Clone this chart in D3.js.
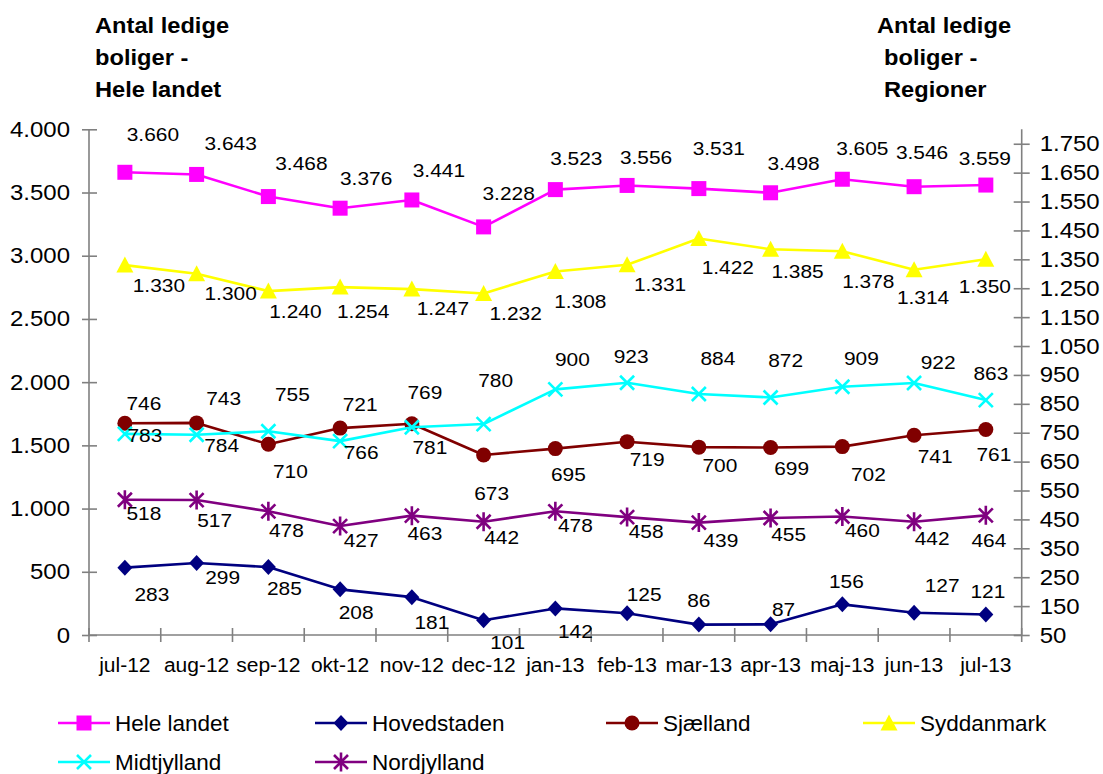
<!DOCTYPE html>
<html>
<head>
<meta charset="utf-8">
<script src="https://cdn.jsdelivr.net/npm/d3@7"></script>
<style>
  html, body { margin: 0; padding: 0; background: #fff; }
  svg { display: block; font-family: "Liberation Sans", Arial, sans-serif; }
</style>
</head>
<body>
<svg id="chart" width="1103" height="774"></svg>
<script>
// ---------------- DATA ----------------
const categories = ["jul-12","aug-12","sep-12","okt-12","nov-12","dec-12","jan-13","feb-13","mar-13","apr-13","maj-13","jun-13","jul-13"];
const heleLandet  = [3660,3643,3468,3376,3441,3228,3523,3556,3531,3498,3605,3546,3559];
const hovedstaden = [283,299,285,208,181,101,142,125,86,87,156,127,121];
const sjaelland   = [783,784,710,766,781,673,695,719,700,699,702,741,761];
const syddanmark  = [1330,1300,1240,1254,1247,1232,1308,1331,1422,1385,1378,1314,1350];
const midtjylland = [746,743,755,721,769,780,900,923,884,872,909,922,863];
const nordjylland = [518,517,478,427,463,442,478,458,439,455,460,442,464];
const leftTicks  = [0,500,1000,1500,2000,2500,3000,3500,4000];
const rightTicks = [50,150,250,350,450,550,650,750,850,950,1050,1150,1250,1350,1450,1550,1650,1750];
const leftTitle  = ["Antal ledige","boliger -","Hele landet"];
const rightTitle = ["Antal ledige","boliger -","Regioner"];

// ---------------- LAYOUT / STYLE ----------------
const plot = { left: 89, right: 1021.7, top: 129.3, bottom: 635 };
const axisColor = "#808080";

// label nudges (px, relative to each point; baseline)
const labelNudge = {
  hele:  { dx:[28,34,33,26,27,25,21,19,20,23,20,8,-1],   dy:[-31,-24,-27,-23,-23,-27,-25,-21,-34,-23,-24,-28,-20] },
  hoved: { dx:[27,26,16,16,20,24,20,17,0,13,4,28,2],      dy:[33,21,28,30,32,29,30,-12,-18,-8,-16,-21,-16] },
  sjael: { dx:[20,25,22,21,18,8,13,20,21,21,26,21,8],     dy:[19,29,34,31,30,45,32,24,25,28,34,28,31] },
  sydd:  { dx:[34,34,27,23,31,32,25,33,29,27,26,9,-1],    dy:[27,26,27,31,26,27,37,26,35,29,37,34,34] },
  midt:  { dx:[19,27,24,20,13,12,17,4,19,15,19,24,5],     dy:[-24,-30,-30,-30,-28,-37,-23,-20,-29,-30,-22,-14,-20] },
  nord:  { dx:[19,18,18,21,13,18,20,19,22,18,20,18,3],    dy:[20,27,26,21,24,22,21,21,24,23,20,23,32] }
};

const series = [
  { name:"Hele landet", values:heleLandet,  axis:"L", color:"#FF00FF", sym:"square",   nudge:labelNudge.hele },
  { name:"Hovedstaden", values:hovedstaden, axis:"R", color:"#000080", sym:"diamond",  nudge:labelNudge.hoved },
  { name:"Sjælland",    values:sjaelland,   axis:"R", color:"#800000", sym:"circle",   nudge:labelNudge.sjael },
  { name:"Syddanmark",  values:syddanmark,  axis:"R", color:"#FFFF00", sym:"triangle", nudge:labelNudge.sydd },
  { name:"Midtjylland", values:midtjylland, axis:"R", color:"#00FFFF", sym:"cross",    nudge:labelNudge.midt },
  { name:"Nordjylland", values:nordjylland, axis:"R", color:"#800080", sym:"star",     nudge:labelNudge.nord }
];

const legendCols = [58, 315, 606, 863];
const legendRows = [723, 762];

// ---------------- HELPERS ----------------
const dk = d3.formatLocale({ decimal: ",", thousands: ".", grouping: [3], currency: ["", " kr"] });
const fmt = dk.format(",d");

function stretch(sel, f) {
  sel.each(function() {
    const L = this.getComputedTextLength();
    if (L > 0) {
      this.setAttribute("textLength", (L * f).toFixed(2));
      this.setAttribute("lengthAdjust", "spacingAndGlyphs");
    }
  });
}

function drawSymbol(g, type, color) {
  switch (type) {
    case "square":
      g.append("rect").attr("x",-7.5).attr("y",-7.5).attr("width",15).attr("height",15).attr("fill",color);
      break;
    case "diamond":
      g.append("path").attr("d","M0,-8L7.5,0L0,8L-7.5,0Z").attr("fill",color);
      break;
    case "circle":
      g.append("circle").attr("r",7.5).attr("fill",color);
      break;
    case "triangle":
      g.append("path").attr("d","M0,-8.5L8.5,7.5L-8.5,7.5Z").attr("fill",color);
      break;
    case "cross":
      g.append("path").attr("d","M-7,-7L7,7M-7,7L7,-7").attr("stroke",color).attr("stroke-width",2.6).attr("fill","none");
      break;
    case "star":
      g.append("path").attr("d","M-7,-7L7,7M-7,7L7,-7M0,-9.5V9.5").attr("stroke",color).attr("stroke-width",2.6).attr("fill","none");
      break;
  }
}

// ---------------- SCALES ----------------
const svg = d3.select("#chart");
const x = d3.scaleBand().domain(categories).range([plot.left, plot.right]).padding(0);
const xc = c => x(c) + x.bandwidth() / 2;
const yL = d3.scaleLinear().domain([0, 4000]).range([plot.bottom, plot.top]);
const yR = d3.scaleLinear().domain([50, 1800]).range([plot.bottom, plot.top]);

// ---------------- AXES ----------------
const gL = svg.append("g").attr("transform", `translate(${plot.left},0)`)
  .call(d3.axisLeft(yL).tickValues(leftTicks).tickFormat(fmt).tickSize(7).tickPadding(12));
gL.selectAll(".tick line").attr("x2", -7).attr("x1", 8);
const gR = svg.append("g").attr("transform", `translate(${plot.right},0)`)
  .call(d3.axisRight(yR).tickValues(rightTicks).tickFormat(fmt).tickSize(8).tickPadding(10));
gR.selectAll(".tick line").attr("x1", -8).attr("x2", 8);
const gX = svg.append("g").attr("transform", `translate(0,${plot.bottom})`)
  .call(d3.axisBottom(x).tickSize(0).tickPadding(0));
gX.selectAll(".tick text").remove();

[gL, gR, gX].forEach(g => {
  g.select(".domain").attr("stroke", axisColor).attr("stroke-width", 1.6);
  g.selectAll(".tick line").attr("stroke", axisColor).attr("stroke-width", 1.6);
  g.selectAll(".tick text").attr("fill", "#000").attr("font-size", 22).attr("font-family", "Liberation Sans, Arial, sans-serif");
});
gL.select(".domain").attr("d", `M0,${plot.top}V${plot.bottom}`);
gR.select(".domain").attr("d", `M0,${plot.top}V${plot.bottom}`);
gX.select(".domain").attr("d", `M${plot.left},0H${plot.right}`);
stretch(gL.selectAll(".tick text"), 1.09);
stretch(gR.selectAll(".tick text"), 1.09);

// category boundary ticks
const bounds = categories.map(c => x(c)).concat([x(categories[categories.length-1]) + x.bandwidth()]);
gX.selectAll("line.bt").data(bounds).join("line").attr("class","bt")
  .attr("x1", d => d).attr("x2", d => d).attr("y1", -7).attr("y2", 7)
  .attr("stroke", axisColor).attr("stroke-width", 1.6);

// category labels
const catText = svg.append("g").selectAll("text").data(categories).join("text")
  .attr("x", d => xc(d)).attr("y", plot.bottom + 37)
  .attr("text-anchor", "middle").attr("font-size", 20).attr("fill", "#000")
  .text(d => d);
stretch(catText, 1.05);

// ---------------- LINES & MARKERS ----------------
const marksG = svg.append("g");
series.forEach(s => {
  const y = s.axis === "L" ? yL : yR;
  const line = d3.line().x((d, i) => xc(categories[i])).y(d => y(d));
  marksG.append("path").datum(s.values).attr("d", line)
    .attr("fill", "none").attr("stroke", s.color).attr("stroke-width", 2.6).attr("stroke-linejoin", "round");
  s.values.forEach((v, i) => {
    const g = marksG.append("g").attr("transform", `translate(${xc(categories[i])},${y(v)})`);
    drawSymbol(g, s.sym, s.color);
  });
});

// ---------------- DATA LABELS ----------------
const labelsG = svg.append("g");
series.forEach(s => {
  const y = s.axis === "L" ? yL : yR;
  const t = labelsG.selectAll(null).data(s.values).join("text")
    .attr("x", (v, i) => xc(categories[i]) + s.nudge.dx[i])
    .attr("y", (v, i) => y(v) + s.nudge.dy[i])
    .attr("text-anchor", "middle").attr("font-size", 19).attr("fill", "#000")
    .text(v => fmt(v));
  stretch(t, 1.1);
});

// ---------------- TITLES ----------------
const titleBaselines = [33, 64.5, 97];
const lt = svg.append("g").selectAll("text").data(leftTitle).join("text")
  .attr("x", 95).attr("y", (d, i) => titleBaselines[i])
  .attr("font-size", 21.5).attr("font-weight", "bold").attr("fill", "#000").text(d => d);
stretch(lt, 1.1);
const rt = svg.append("g").selectAll("text").data(rightTitle).join("text")
  .attr("x", (d, i) => i === 0 ? 877 : 884).attr("y", (d, i) => titleBaselines[i])
  .attr("font-size", 21.5).attr("font-weight", "bold").attr("fill", "#000").text(d => d);
stretch(rt, 1.1);

// ---------------- LEGEND ----------------
const leg = svg.append("g");
series.forEach((s, i) => {
  const lx = legendCols[i % 4], ly = legendRows[Math.floor(i / 4)];
  const g = leg.append("g").attr("transform", `translate(${lx},${ly})`);
  g.append("line").attr("x1", 0).attr("x2", 52).attr("y1", 0).attr("y2", 0)
    .attr("stroke", s.color).attr("stroke-width", 2.6);
  const m = g.append("g").attr("transform", "translate(26,0)");
  drawSymbol(m, s.sym, s.color);
  g.append("text").attr("x", 57).attr("y", 8.3).attr("font-size", 22.5).attr("fill", "#000").text(s.name);
});
</script>
</body>
</html>
